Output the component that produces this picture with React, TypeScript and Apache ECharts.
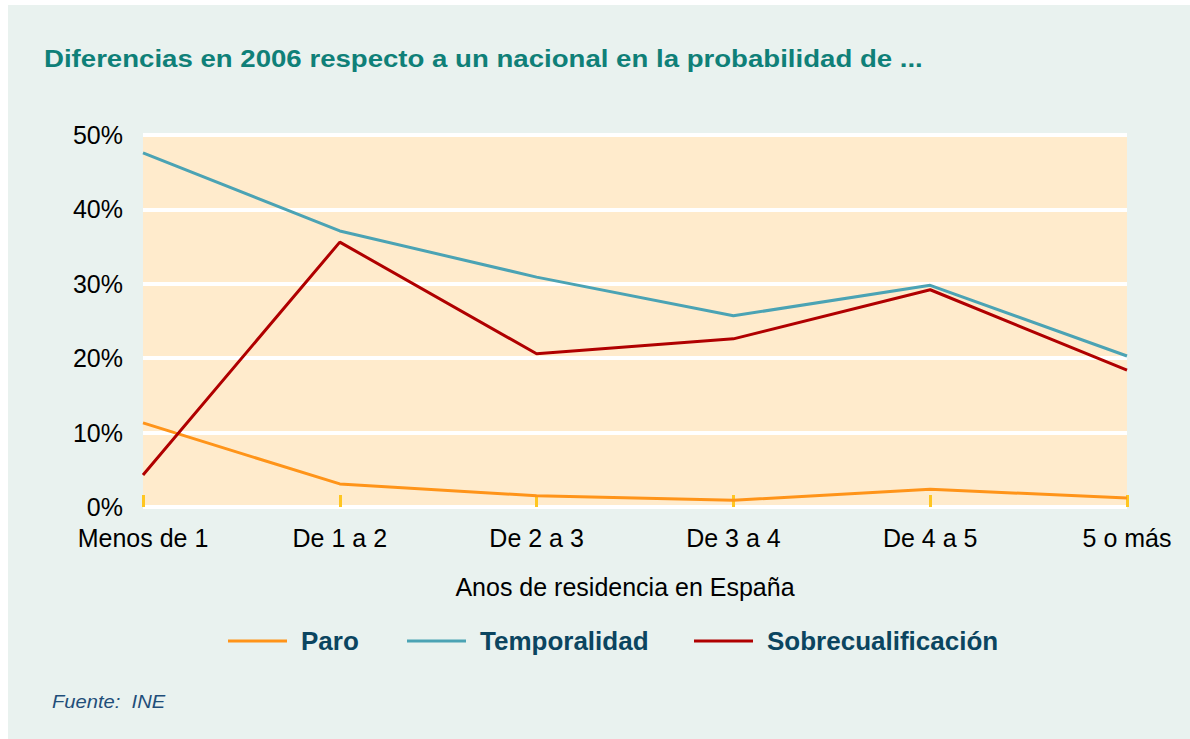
import React, { useEffect, useRef } from "react";
import * as echarts from "echarts";

const categories = ["Menos de 1", "De 1 a 2", "De 2 a 3", "De 3 a 4", "De 4 a 5", "5 o más"];
const paro = [11.3, 3.1, 1.5, 0.9, 2.4, 1.2];
const temporalidad = [47.6, 37.1, 30.9, 25.7, 29.8, 20.3];
const sobrecualificacion = [4.3, 35.6, 20.6, 22.6, 29.2, 18.4];
const yTicks = [0, 10, 20, 30, 40, 50];

const FONT = "'Liberation Sans', Arial, sans-serif";

export default function App() {
  const ref = useRef<HTMLDivElement>(null);
  useEffect(() => {
    const chart = echarts.init(ref.current!, undefined, { renderer: "svg" });
    const legendText = { fontFamily: FONT, fontSize: 26, fontWeight: "bold", color: "#0B4560", padding: [0, 0, 0, 9] };
    chart.setOption({
      animation: false,
      backgroundColor: "#ffffff",
      graphic: [
        { type: "rect", z: -10, shape: { x: 8, y: 5, width: 1182, height: 734 }, style: { fill: "#E9F2EF" } },
        {
          type: "text", x: 44, y: 47, scaleX: 1.15,
          style: { text: "Diferencias en 2006 respecto a un nacional en la probabilidad de ...", font: `bold 24px ${FONT}`, fill: "#0F8078" },
        },
        {
          type: "text", x: 52, y: 693, scaleX: 1.12,
          style: { text: "Fuente:  INE", font: `italic 18px ${FONT}`, fill: "#1F4E79" },
        },
      ],
      grid: {
        left: 143, right: 63, top: 135, bottom: 232, show: true,
        backgroundColor: "#FFEBCC", borderWidth: 0,
      },
      legend: [
        { data: ["Paro"], left: 228, top: 628 },
        { data: ["Temporalidad"], left: 407, top: 628 },
        { data: ["Sobrecualificación"], left: 694, top: 628 },
      ].map((l) => ({
        ...l, padding: 0, icon: "rect", itemWidth: 59, itemHeight: 3, textStyle: legendText,
      })),
      xAxis: {
        type: "category", data: categories, boundaryGap: false,
        axisLine: { show: false },
        axisTick: { show: true, inside: true, length: 12, lineStyle: { color: "#FFC620", width: 3 } },
        axisLabel: { fontFamily: FONT, fontSize: 25, color: "#000", margin: 18 },
        name: "Anos de residencia en España", nameLocation: "middle", nameGap: 67,
        nameTextStyle: { fontFamily: FONT, fontSize: 25, color: "#000", padding: [0, 20, 0, 0] },
      },
      yAxis: {
        type: "value", min: yTicks[0], max: yTicks[yTicks.length - 1], interval: 10,
        axisLine: { show: false }, axisTick: { show: false },
        axisLabel: { fontFamily: FONT, fontSize: 25, color: "#000", margin: 20, formatter: "{value}%" },
        splitLine: { lineStyle: { color: "#ffffff", width: 4 } },
      },
      series: [
        { name: "Paro", type: "line", data: paro, symbol: "none", lineStyle: { width: 3, color: "#FF9419" }, itemStyle: { color: "#FF9419" } },
        { name: "Temporalidad", type: "line", data: temporalidad, symbol: "none", lineStyle: { width: 3, color: "#4BA3B4" }, itemStyle: { color: "#4BA3B4" } },
        { name: "Sobrecualificación", type: "line", data: sobrecualificacion, symbol: "none", lineStyle: { width: 3, color: "#B00000" }, itemStyle: { color: "#B00000" } },
      ],
    });
    return () => chart.dispose();
  }, []);
  return <div ref={ref} style={{ position: "absolute", left: 0, top: 0, width: 1190, height: 739 }} />;
}
